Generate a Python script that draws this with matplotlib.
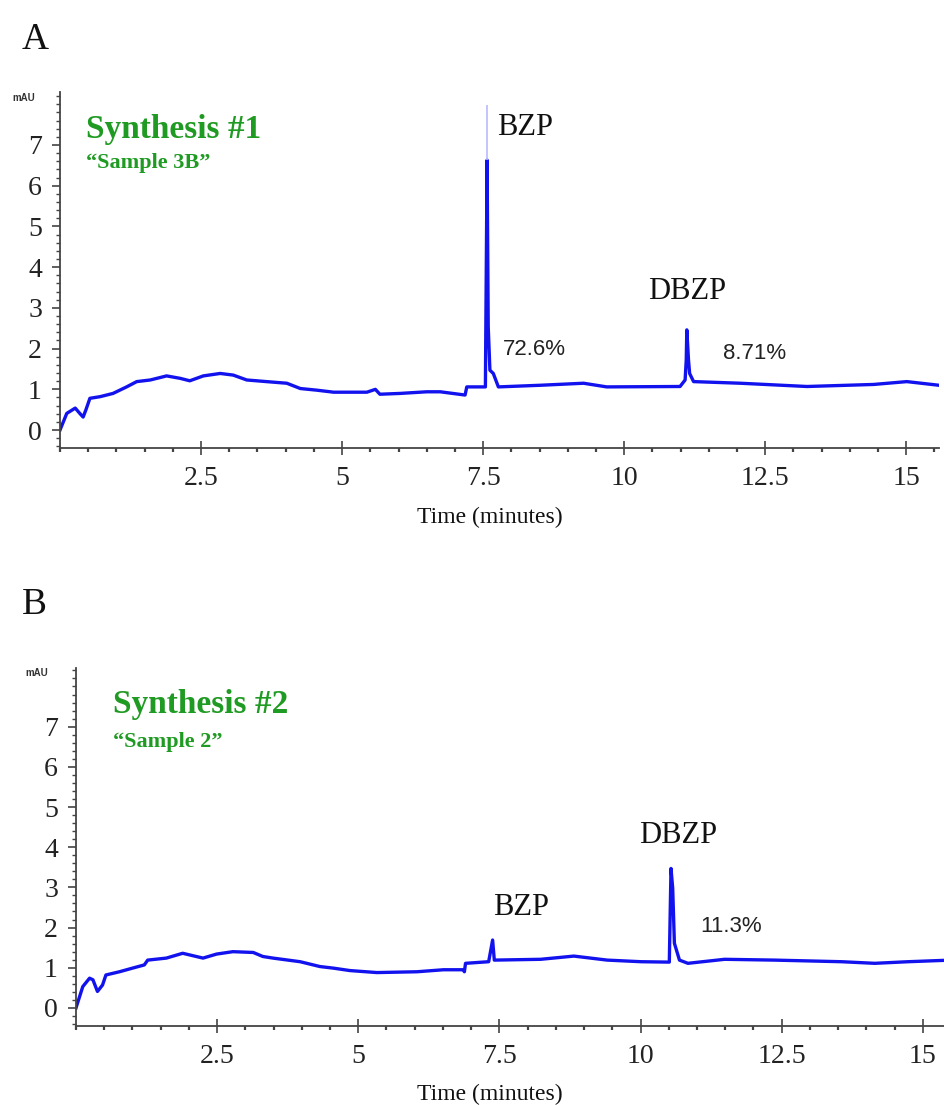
import matplotlib
matplotlib.use("Agg")
import matplotlib.pyplot as plt
from matplotlib.ticker import MultipleLocator, FixedLocator

# ---- Chromatogram A: Synthesis #1, "Sample 3B" ----
a_time = [0.00, 0.12, 0.27, 0.35, 0.41, 0.46, 0.53, 0.71, 0.94, 1.18, 1.36,
          1.60, 1.89, 2.13, 2.30, 2.54, 2.84, 3.07, 3.31, 3.66, 4.02, 4.26,
          4.55, 4.85, 5.44, 5.59, 5.67, 6.03, 6.50, 6.74, 7.18, 7.21, 7.54,
          7.57, 7.59, 7.62, 7.68, 7.77, 8.51, 9.28, 9.69, 10.99, 11.08,
          11.10, 11.11, 11.14, 11.16, 11.23, 12.06, 13.24, 14.42, 15.01, 15.58]
a_mau = [0.00, 0.41, 0.54, 0.41, 0.32, 0.50, 0.78, 0.82, 0.90, 1.06, 1.19,
         1.23, 1.33, 1.27, 1.21, 1.33, 1.39, 1.35, 1.23, 1.19, 1.15, 1.02,
         0.98, 0.93, 0.93, 1.00, 0.88, 0.90, 0.94, 0.94, 0.86, 1.06, 1.06,
         6.63, 2.54, 1.47, 1.39, 1.06, 1.10, 1.15, 1.06, 1.07, 1.23,
         1.72, 2.46, 1.72, 1.39, 1.19, 1.15, 1.07, 1.12, 1.19, 1.10]
a_bzp_apex = (7.57, 6.63, 7.99)   # time, solid top, faint top

# ---- Chromatogram B: Synthesis #2, "Sample 2" ----
b_time = [0.00, 0.12, 0.24, 0.30, 0.38, 0.47, 0.53, 0.77, 1.00, 1.21, 1.27,
          1.60, 1.89, 2.25, 2.49, 2.78, 3.14, 3.31, 3.49, 3.97, 4.32, 4.56,
          4.85, 5.33, 6.04, 6.51, 6.86, 6.88, 6.90, 7.31, 7.38, 7.41, 8.23,
          8.82, 9.41, 10.01, 10.51, 10.54, 10.57, 10.60, 10.69, 10.84, 11.49,
          12.37, 13.56, 14.15, 14.74, 15.50]
b_mau = [0.00, 0.53, 0.74, 0.70, 0.41, 0.57, 0.82, 0.90, 0.99, 1.07, 1.19,
         1.24, 1.36, 1.24, 1.34, 1.40, 1.38, 1.28, 1.24, 1.15, 1.03, 0.99,
         0.93, 0.88, 0.90, 0.95, 0.95, 0.90, 1.11, 1.15, 1.69, 1.19, 1.21,
         1.29, 1.19, 1.15, 1.14, 3.47, 2.98, 1.61, 1.19, 1.11, 1.21,
         1.19, 1.15, 1.11, 1.15, 1.19]

# Peak annotations: (text, time, mAU)
a_peaks = [("BZP", 7.75, 7.44), ("DBZP", 10.43, 3.40)]
a_areas = [("72.6%", 7.85, 1.97), ("8.71%", 11.76, 1.87)]
b_peaks = [("BZP", 7.39, 2.49), ("DBZP", 9.98, 4.30)]
b_areas = [("11.3%", 11.05, 2.02)]

y_ticks = [0, 1, 2, 3, 4, 5, 6, 7]
x_ticks = [2.5, 5, 7.5, 10, 12.5, 15]
x_tick_labels = ["2.5", "5", "7.5", "10", "12.5", "15"]

W, H = 945, 1105
TRACE = "#1212ee"
GREEN = "#1f9a22"
SERIF = ["Liberation Serif", "DejaVu Serif"]
SANS = ["Liberation Sans", "DejaVu Sans"]

fig = plt.figure(figsize=(W / 100, H / 100), dpi=100)


def frac(px, py):
    return px / W, 1 - py / H


def make_axes(left, top, right, bottom, xmax, ymin, ymax):
    x0, y0 = frac(left, bottom)
    x1, y1 = frac(right, top)
    ax = fig.add_axes([x0, y0, x1 - x0, y1 - y0])
    ax.set_xlim(0, xmax)
    ax.set_ylim(ymin, ymax)
    for side in ("top", "right"):
        ax.spines[side].set_visible(False)
    for side in ("left", "bottom"):
        ax.spines[side].set_color("#444444")
        ax.spines[side].set_linewidth(1.3)
    ax.yaxis.set_major_locator(FixedLocator(y_ticks))
    ax.yaxis.set_minor_locator(MultipleLocator(0.2))
    ax.set_yticklabels([str(v) for v in y_ticks])
    ax.xaxis.set_major_locator(FixedLocator(x_ticks))
    ax.set_xticklabels(x_tick_labels)
    ax.xaxis.set_minor_locator(MultipleLocator(0.5))
    ax.tick_params(axis="y", which="major", direction="out", length=6,
                   width=1.2, color="#444444", pad=7)
    ax.tick_params(axis="y", which="minor", direction="out", length=3,
                   width=1.0, color="#444444")
    ax.tick_params(axis="x", which="major", direction="inout", length=10,
                   width=1.2, color="#444444", pad=8)
    ax.tick_params(axis="x", which="minor", direction="out", length=3,
                   width=1.6, color="#444444")
    for lab in ax.get_xticklabels() + ax.get_yticklabels():
        lab.set_family(SERIF)
        lab.set_fontsize(20)
        lab.set_color("#222222")
    return ax


def annotate(ax, title, sample, peaks, areas, tx, ty_title, ty_sample):
    ax.text(tx, ty_title, title, family=SERIF, fontsize=24, fontweight="bold",
            color=GREEN, va="center", ha="left")
    ax.text(tx, ty_sample, sample, family=SERIF, fontsize=16, fontweight="bold",
            color=GREEN, va="center", ha="left")
    for name, t, v in peaks:
        ax.text(t, v, name, family=SERIF, fontsize=22, color="#111111",
                va="center", ha="left")
    for pct, t, v in areas:
        ax.text(t, v, pct, family=SANS, fontsize=16, color="#222222",
                va="center", ha="left")


# Panel A
axA = make_axes(60, 92, 939, 448, 15.58, -0.44, 8.3)
axA.plot(a_time, a_mau, color=TRACE, lw=2.4, solid_joinstyle="round")
axA.vlines(a_bzp_apex[0], a_bzp_apex[1], a_bzp_apex[2], color="#b9b9ff", lw=1.2)
annotate(axA, "Synthesis #1", "\u201cSample 3B\u201d", a_peaks, a_areas,
         0.46, 7.37, 6.56)

# Panel B
axB = make_axes(76, 668, 951, 1026, 15.5, -0.45, 8.46)
axB.plot(b_time, b_mau, color=TRACE, lw=2.4, solid_joinstyle="round")
annotate(axB, "Synthesis #2", "\u201cSample 2\u201d", b_peaks, b_areas,
         0.65, 7.54, 6.62)

# Panel letters, units and axis titles
for letter, px, py in (("A", 22, 40), ("B", 22, 605)):
    fig.text(*frac(px, py), letter, family=SERIF, fontsize=27, color="#111111",
             ha="left", va="center")
for px, py in ((12, 98), (25, 673)):
    fig.text(*frac(px, py), "mAU", family=SANS, fontsize=7, fontweight="bold",
             color="#333333", ha="left", va="center")
for py in (517, 1094):
    fig.text(*frac(490, py), "Time (minutes)", family=SERIF, fontsize=17,
             color="#111111", ha="center", va="center")

fig.savefig("out.png", dpi=100, facecolor="white")
